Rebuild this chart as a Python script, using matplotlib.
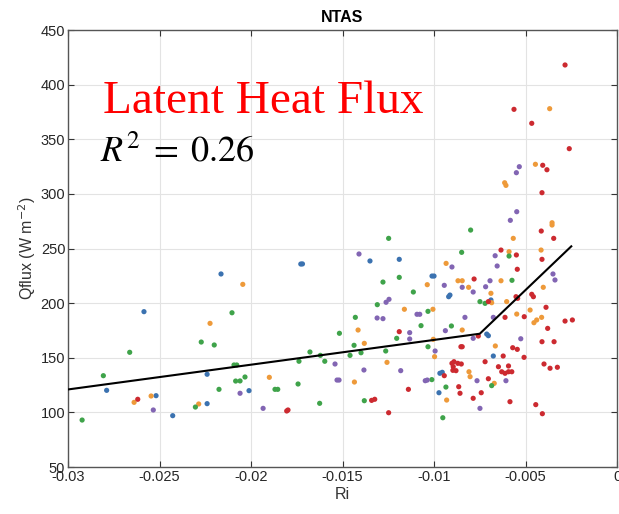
import numpy as np
import matplotlib
matplotlib.use("Agg")
import matplotlib.pyplot as plt

plt.rcParams['font.family'] = ['Liberation Sans', 'DejaVu Sans']

# Ri / Qflux points, grouped by marker colour
blue_ri = [-0.02585, -0.02789, -0.02519, -0.02428, -0.02240, -0.02240, -0.02011, -0.02164,
           -0.01350, -0.01190, -0.01728, -0.01719, -0.01011, -0.01000, -0.00920, -0.00913,
           -0.00968, -0.00955, -0.00973, -0.00689, -0.00712, -0.00703, -0.00676]
blue_q = [192.2, 120.2, 115.3, 97.0, 134.9, 108.0, 119.9, 226.7,
          238.6, 240.1, 235.8, 235.9, 224.8, 224.8, 205.9, 207.4,
          135.8, 136.7, 118.0, 202.9, 171.7, 170.2, 151.6]

orange_ri = [-0.02224, -0.02639, -0.02546, -0.02286, -0.01900, -0.02045, -0.00934, -0.00869,
             -0.01037, -0.01162, -0.01006, -0.01415, -0.01381, -0.01004, -0.00997, -0.01257,
             -0.01435, -0.00931, -0.00368, -0.00446, -0.00614, -0.00607, -0.00355, -0.00355,
             -0.00567, -0.00590, -0.00415, -0.00846, -0.00634, -0.00811, -0.00689, -0.00685,
             -0.00603, -0.00403, -0.00475, -0.00548, -0.00454, -0.00439, -0.00412, -0.00846,
             -0.00665, -0.00809, -0.00803, -0.00671]
orange_q = [181.5, 109.2, 115.0, 107.7, 132.1, 217.2, 236.4, 220.5,
            216.9, 194.4, 194.4, 175.4, 163.2, 166.9, 151.0, 145.8,
            127.8, 111.3, 378.0, 327.1, 310.2, 307.8, 273.6, 271.5,
            259.3, 247.1, 248.6, 220.5, 220.5, 214.5, 209.0, 200.4,
            201.4, 214.5, 193.7, 190.0, 182.1, 184.6, 187.0, 175.4,
            160.8, 137.2, 132.7, 126.6]

green_ri = [-0.02104, -0.02272, -0.02201, -0.02663, -0.02807, -0.02923, -0.02304, -0.02175,
            -0.02093, -0.02078, -0.02084, -0.02060, -0.02033, -0.01869, -0.01854, -0.01248,
            -0.01279, -0.01190, -0.01113, -0.01310, -0.01033, -0.01430, -0.01071, -0.00905,
            -0.01517, -0.01204, -0.01437, -0.01033, -0.01678, -0.01621, -0.01459, -0.01399,
            -0.01264, -0.01738, -0.01597, -0.01743, -0.01012, -0.00935, -0.01381, -0.01625,
            -0.00952, -0.00800, -0.00590, -0.00849, -0.00574, -0.00749, -0.00721, -0.00685]
green_q = [191.2, 164.4, 161.7, 155.0, 133.6, 93.0, 104.9, 121.1,
           143.4, 143.4, 128.7, 128.8, 132.4, 121.1, 121.1, 259.3,
           219.3, 223.6, 210.2, 198.6, 192.5, 187.0, 179.4, 179.1,
           172.4, 167.8, 161.4, 160.1, 155.3, 152.2, 152.2, 154.6,
           156.2, 146.8, 146.8, 126.0, 130.0, 123.2, 110.7, 108.3,
           95.1, 266.9, 243.1, 246.5, 220.9, 201.4, 199.8, 124.5]

red_ri = [-0.02619, -0.01190, -0.00944, -0.00902, -0.00891, -0.00870, -0.00897, -0.00880,
          -0.00853, -0.00865, -0.00858, -0.01140, -0.01341, -0.01324, -0.01805, -0.01798,
          -0.01248, -0.00284, -0.00563, -0.00466, -0.00261, -0.00406, -0.00383, -0.00410,
          -0.00414, -0.00346, -0.00634, -0.00550, -0.00410, -0.00545, -0.00781, -0.00703,
          -0.00552, -0.00543, -0.00466, -0.00457, -0.00388, -0.00612, -0.00507, -0.00379,
          -0.00284, -0.00244, -0.00758, -0.00846, -0.00410, -0.00344, -0.00570, -0.00545,
          -0.00622, -0.00508, -0.00721, -0.00851, -0.00895, -0.00648, -0.00630, -0.00612,
          -0.00593, -0.00575, -0.00593, -0.00703, -0.00742, -0.00786, -0.00585, -0.00399,
          -0.00366, -0.00326, -0.00444, -0.00408]
red_q = [112.0, 173.9, 133.6, 144.9, 146.4, 144.9, 138.5, 138.2,
         160.1, 123.5, 117.5, 121.1, 111.0, 112.0, 101.3, 102.2,
         99.7, 418.0, 377.4, 364.6, 341.4, 326.2, 322.1, 301.1,
         266.0, 259.3, 248.6, 244.1, 240.1, 231.0, 222.1, 201.4,
         205.9, 204.4, 208.1, 205.9, 196.2, 187.0, 187.6, 176.9,
         183.6, 184.6, 169.9, 160.1, 164.7, 164.7, 159.2, 157.7,
         151.6, 150.4, 146.4, 144.3, 141.8, 141.8, 137.2, 135.8,
         137.2, 137.2, 142.5, 130.8, 118.0, 112.9, 109.8, 144.3,
         140.4, 141.3, 107.1, 98.8]

purple_ri = [-0.02534, -0.02060, -0.01934, -0.01410, -0.00902, -0.00944, -0.01262, -0.01246,
             -0.01093, -0.01078, -0.01311, -0.01279, -0.00938, -0.01133, -0.01133, -0.00994,
             -0.01541, -0.01383, -0.01182, -0.01530, -0.01519, -0.01048, -0.01037, -0.00534,
             -0.00550, -0.00548, -0.00583, -0.00666, -0.00655, -0.00350, -0.00339, -0.00694,
             -0.00846, -0.00786, -0.00718, -0.00676, -0.00831, -0.00526, -0.00786, -0.00765,
             -0.00607, -0.00749]
purple_q = [102.2, 117.5, 103.7, 245.0, 233.1, 216.3, 200.8, 203.5,
            189.8, 189.8, 186.4, 185.8, 174.8, 173.0, 167.2, 156.2,
            144.3, 138.8, 138.2, 129.6, 129.6, 129.0, 129.6, 324.9,
            319.4, 283.7, 275.8, 243.4, 234.0, 226.7, 221.2, 220.5,
            214.5, 210.2, 215.0, 187.0, 187.0, 167.4, 167.8, 129.0,
            129.0, 103.7]

# piecewise fit
fit_ri = [-0.03, -0.0075, -0.0025]
fit_q = [121, 172, 252]

xticks = [-0.03, -0.025, -0.02, -0.015, -0.01, -0.005, 0]
xtick_labels = ['-0.03', '-0.025', '-0.02', '-0.015', '-0.01', '-0.005', '0']
yticks = [50, 100, 150, 200, 250, 300, 350, 400, 450]

fig = plt.figure(figsize=(6.19, 5.14), dpi=100)
ax = fig.add_axes([0.1099, 0.0914, 0.8869, 0.8502])

groups = [
    (blue_ri, blue_q, '#3b72b0'),
    (orange_ri, orange_q, '#ee9a3a'),
    (green_ri, green_q, '#3fa34a'),
    (red_ri, red_q, '#cc2a30'),
    (purple_ri, purple_q, '#8265b3'),
]
for xs, ys, c in groups:
    ax.scatter(xs, ys, s=14, color=c, edgecolors='none', zorder=3)

ax.plot(fit_ri, fit_q, color='black', lw=1.5, zorder=4)

ax.set_xlim(-0.03, 0)
ax.set_ylim(50, 450)
ax.set_xticks(xticks)
ax.set_xticklabels(xtick_labels)
ax.set_yticks(yticks)
ax.grid(True, color='#e3e3e3', lw=0.8)
ax.set_axisbelow(True)
ax.tick_params(direction='in', length=4, top=True, right=True, labelsize=10.5,
               colors='#333333', labelcolor='#262626', pad=2)
for sp in ax.spines.values():
    sp.set_color('#555555')
    sp.set_linewidth(1.0)

ax.set_title('NTAS', fontsize=11.5, fontweight='bold', pad=6)
ax.set_xlabel('Ri', fontsize=11.5, color='#333333', labelpad=2)
ax.set_ylabel('Qflux (W m$^{-2}$)', fontsize=11.5, color='#333333', labelpad=2)

ax.text(0.064, 0.81, 'Latent Heat Flux', transform=ax.transAxes, color='#ff0000',
        fontsize=34, family='Liberation Serif', va='baseline', zorder=5)
ax.text(0.058, 0.698, r'$R^2\;=\;0.26$', transform=ax.transAxes, color='black',
        fontsize=26, math_fontfamily='stix', va='baseline', zorder=5)

fig.savefig('out.png', dpi=100)
